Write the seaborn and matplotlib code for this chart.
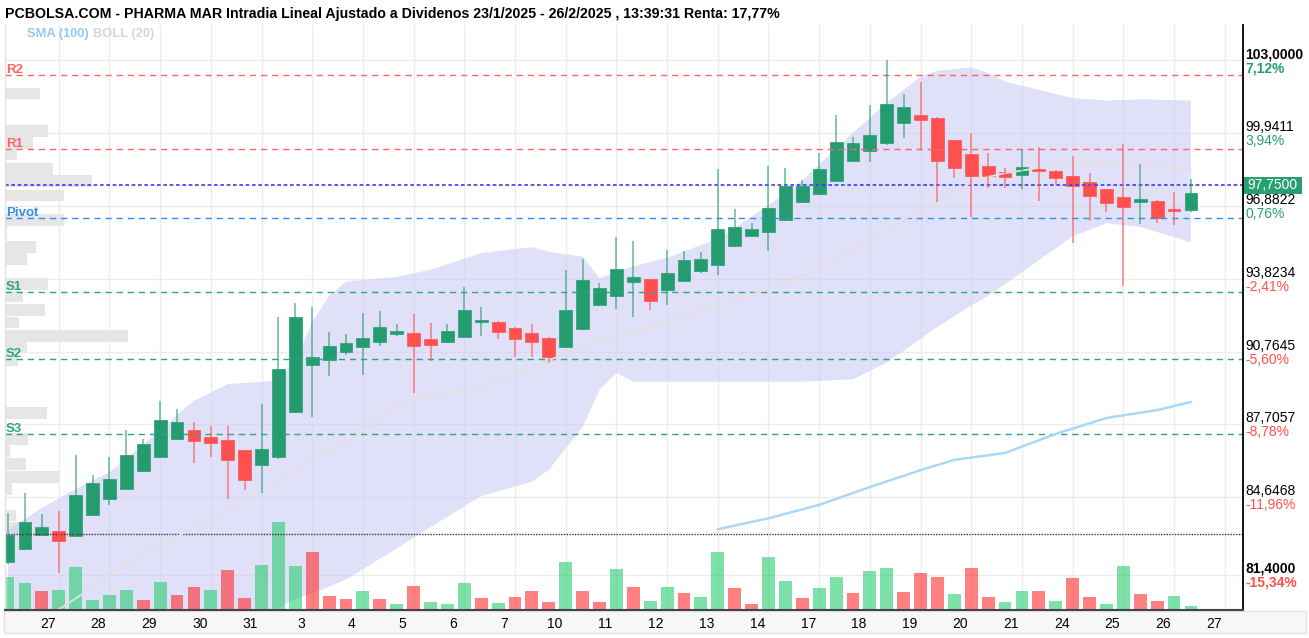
import numpy as np
import pandas as pd
import matplotlib
matplotlib.use("Agg")
import matplotlib.pyplot as plt
import matplotlib.patches as mpatches
import matplotlib.transforms as mtrans
import seaborn as sns
import warnings
warnings.filterwarnings('ignore')

sns.set_theme(style="white")
plt.rcParams['font.family'] = ['Liberation Sans', 'DejaVu Sans']

# ---- velas intradia (3 por sesion) ----
apertura = [81.95, 82.49, 83.07, 83.25, 83.01, 83.89, 84.59, 85.01, 85.74, 86.33,
            87.11, 87.46, 87.19, 87.04, 86.62, 86.00, 86.33, 88.22, 90.20, 90.41,
            90.73, 90.94, 91.15, 91.50, 91.56, 91.29, 91.15, 91.39, 92.00, 92.02,
            91.77, 91.56, 91.35, 90.97, 91.71, 92.72, 93.10, 93.70, 93.81, 93.35,
            93.73, 94.13, 94.40, 95.20, 95.63, 95.77, 96.29, 97.03, 97.38, 97.92,
            98.76, 99.18, 99.50, 100.34, 100.68, 100.58, 99.64, 99.06, 98.57, 98.31,
            98.17, 98.37, 98.36, 98.15, 97.89, 97.57, 97.26, 97.03, 97.10, 96.69,
            96.70]
maximo = [84.00, 84.82, 83.95, 84.09, 86.41, 85.57, 86.35, 87.47, 87.08, 88.70,
          88.34, 87.82, 87.65, 87.65, 86.65, 88.56, 92.23, 92.79, 92.65, 91.60,
          91.50, 92.40, 92.48, 91.91, 92.33, 91.98, 91.92, 93.49, 92.65, 92.04,
          91.81, 91.92, 91.37, 94.19, 94.65, 93.65, 95.59, 95.42, 93.83, 95.03,
          95.00, 94.96, 98.43, 96.74, 96.15, 98.56, 98.46, 97.96, 99.11, 100.69,
          99.78, 101.11, 103.00, 101.57, 102.09, 100.60, 99.66, 99.95, 99.09, 98.46,
          99.22, 99.36, 98.38, 98.97, 98.25, 97.59, 99.46, 98.62, 97.12, 97.47,
          97.99]
minimo = [81.84, 82.44, 83.04, 81.46, 83.00, 83.85, 84.33, 84.98, 85.71, 86.29,
          87.05, 86.08, 86.33, 84.57, 84.96, 84.84, 86.27, 88.17, 88.03, 89.74,
          90.63, 89.78, 91.01, 91.43, 89.01, 90.37, 91.11, 91.36, 91.43, 91.31,
          90.52, 90.52, 90.27, 90.90, 91.67, 92.68, 92.54, 92.20, 92.51, 92.72,
          93.67, 94.05, 93.98, 95.14, 95.59, 95.00, 96.26, 96.99, 97.34, 97.87,
          98.71, 98.73, 99.43, 99.71, 99.22, 97.03, 98.04, 96.42, 97.64, 97.64,
          97.57, 97.10, 97.76, 95.31, 96.26, 96.61, 93.52, 96.11, 96.15, 96.08,
          96.63]
cierre = [83.07, 83.63, 83.42, 82.80, 84.73, 85.26, 85.42, 86.41, 86.89, 87.88,
          87.82, 87.01, 86.92, 86.21, 85.38, 86.66, 90.02, 92.23, 90.55, 91.01,
          91.14, 91.35, 91.81, 91.62, 91.00, 91.04, 91.64, 92.50, 92.02, 91.57,
          91.29, 91.15, 90.55, 92.51, 93.77, 93.45, 94.23, 93.91, 92.89, 94.07,
          94.59, 94.65, 95.91, 96.00, 95.90, 96.80, 97.73, 97.73, 98.43, 99.57,
          99.53, 99.85, 101.15, 101.04, 100.48, 98.76, 98.46, 98.13, 98.13, 98.08,
          98.52, 98.36, 98.04, 97.73, 97.29, 96.99, 96.82, 97.15, 96.36, 96.68,
          97.43]

# volumen por vela (miles) y su color ('g' sube / 'r' baja)
volumen = [32.7, 26.7, 19.3, 20.3, 42.7, 10.3, 15.3, 20.3, 10.3, 28.0,
           15.3, 22.7, 20.3, 40.3, 11.7, 45.3, 87.7, 44.3, 58.3, 14.3,
           10.7, 19.3, 10.7, 5.7, 24.3, 8.0, 5.7, 26.7, 11.7, 6.7,
           13.0, 19.3, 8.3, 48.0, 19.3, 8.0, 40.7, 23.3, 9.0, 23.3,
           16.7, 13.0, 58.0, 22.0, 5.7, 53.0, 29.3, 11.7, 21.7, 33.3,
           16.7, 39.3, 42.0, 18.0, 37.0, 33.3, 15.7, 42.3, 13.3, 8.0,
           19.3, 19.3, 9.0, 32.0, 13.0, 5.7, 44.3, 15.7, 9.3, 14.3,
           4.3]
color_vol = list("ggrgggggrgrrgrrgggrrrgrgrgggrgrrrgrrgrggrggrrggrggrggrrrgrrggrgrrggrrgg")

# Bollinger (20) y SMA (100)
boll_idx = [0, 2, 4, 6, 8, 10, 11, 13, 16, 17, 18, 19, 20, 23, 25, 28, 31, 32, 34, 35,
            36, 37, 39, 42, 45, 47, 50, 52, 54, 55, 57, 58, 59, 63, 65, 67, 70]
boll_sup = [83.3, 84.2, 85.0, 85.7, 86.85, 88.1, 88.7, 89.4, 89.55, 90.4, 92.0, 93.1, 93.7,
            93.9, 94.2, 94.9, 95.15, 94.95, 94.75, 93.85, 94.1, 94.35, 94.7, 95.5, 96.9,
            97.95, 99.95, 101.2, 102.3, 102.55, 102.7, 102.45, 102.1, 101.4, 101.3, 101.35,
            101.3]
boll_med = [78.6, 79.5, 80.4, 81.4, 82.3, 83.0, 83.4, 84.1, 85.3, 85.8, 86.3, 86.6, 86.9,
            88.6, 88.95, 89.25, 90.1, 90.4, 90.95, 91.25, 91.4, 91.6, 92.0, 92.7, 93.4,
            93.9, 95.0, 95.85, 96.7, 97.1, 97.85, 98.1, 98.25, 98.7, 98.72, 98.65, 98.38]
boll_inf = [73.9, 74.8, 75.8, 77.1, 77.75, 77.9, 78.1, 78.8, 80.0, 80.4, 80.6, 80.9, 81.2,
            82.5, 83.4, 84.7, 85.3, 85.8, 87.6, 89.15, 89.87, 89.5, 89.5, 89.5, 89.5,
            89.5, 89.6, 90.3, 91.3, 91.8, 92.7, 93.1, 93.6, 95.6, 96.15, 96.0, 95.35]
sma_idx = [42, 45, 48, 51, 54, 56, 59, 62, 65, 68, 70]
sma_val = [83.31, 83.77, 84.33, 85.08, 85.79, 86.22, 86.51, 87.31, 87.98, 88.31, 88.65]

# perfil de volumen por precio (barras grises de la izquierda)
perfil_precio = [101.61, 100.02, 99.52, 99.05, 98.43, 97.92, 97.33, 96.29, 95.78, 95.15,
                 94.65, 93.60, 93.06, 92.51, 91.97, 91.42, 90.92, 90.41, 88.19, 87.10,
                 86.59, 86.05, 85.50, 85.00, 83.87, 83.36]
perfil_vol = [35, 43, 28, 12, 48, 87, 59, 59, 2, 31, 22, 43, 18, 40, 14, 123, 22, 13, 42, 23,
              5, 21, 54, 7, 11, 15]

# niveles pivote
niveles = {'R2': 102.37, 'R1': 99.27, 'Pivot': 96.36, 'S1': 93.28, 'S2': 90.45, 'S3': 87.29}
precio_actual = 97.75
precio_ref = 83.10

# eje derecho
ticks_precio = [103.0, 99.9411, 96.8822, 93.8234, 90.7645, 87.7057, 84.6468, 81.40]
ticks_txt = ["103,0000", "99,9411", "96,8822", "93,8234", "90,7645", "87,7057", "84,6468", "81,4000"]
pct_txt = ["7,12%", "3,94%", "0,76%", "-2,41%", "-5,60%", "-8,78%", "-11,96%", "-15,34%"]
dias = ["27", "28", "29", "30", "31", "3", "4", "5", "6", "7", "10", "11", "12", "13", "14",
        "17", "18", "19", "20", "21", "24", "25", "26", "27"]

df = pd.DataFrame({'open': apertura, 'high': maximo, 'low': minimo, 'close': cierre,
                   'vol': volumen, 'vcol': color_vol})
df['i'] = np.arange(len(df))

VERDE = '#259c70'
ROJO = '#ff5050'
Y_BOT, Y_TOP = 79.92, 104.47
X_MIN, X_MAX = -0.18, 73.08

W, H = 1309, 638
fig = plt.figure(figsize=(W / 100, H / 100), dpi=100)
fig.patch.set_facecolor('white')
rect = [5 / W, 28 / H, 1238 / W, 585 / H]

ax_bg = fig.add_axes(rect, zorder=0)
ax_prof = fig.add_axes(rect, zorder=1, sharey=ax_bg)
ax_band = fig.add_axes(rect, zorder=2, sharex=ax_bg, sharey=ax_bg)
ax_vol = fig.add_axes(rect, zorder=3, sharex=ax_bg)
ax = fig.add_axes(rect, zorder=4, sharex=ax_bg, sharey=ax_bg)
for a in [ax_bg, ax_prof, ax_band, ax_vol]:
    a.axis('off')
ax.set_facecolor('none')
ax_bg.set_xlim(X_MIN, X_MAX)
ax_bg.set_ylim(Y_BOT, Y_TOP)

# rejilla
for t in ticks_precio:
    ax_bg.axhline(t, color='#ececec', lw=1)
for g in range(3, 73, 3):
    ax_bg.axvline(g, color='#ececec', lw=1)

# perfil de volumen
ax_prof.set_xlim(0, 1238)
ax_prof.barh(perfil_precio, perfil_vol, height=0.47, left=0, color='#e6e6e6', edgecolor='none')

# bandas de Bollinger
ax_band.fill_between(boll_idx, boll_sup, boll_inf, color='#c8c8f5', alpha=0.55, lw=0)

# volumen
ax_vol.set_ylim(0, 585)
vc = df['vcol'].map({'g': '#26cd71', 'r': '#ff2b2b'})
ax_vol.bar(df['i'], df['vol'], width=0.76, color=vc, alpha=0.6, edgecolor='none')

# lineas de niveles
for nombre, nivel in niveles.items():
    if nombre.startswith('R'):
        c = '#ff6464'
    elif nombre.startswith('S'):
        c = '#2fa57c'
    else:
        c = '#2f8ff0'
    ax.axhline(nivel, color=c, lw=1, ls=(0, (4.5, 3.5)))
    off = mtrans.offset_copy(ax.get_yaxis_transform(), fig=fig, x=1, y=2, units='dots')
    ax.text(0, nivel, nombre, transform=off, color=c, fontsize=9.5, fontweight='bold',
            va='baseline', ha='left')
ax.axhline(precio_actual, color='#3b3bf5', lw=1.2, ls=(0, (2.2, 1.6)))
ax.axhline(precio_ref, color='#333333', lw=1, ls=(0, (1, 1)))

# medias
sns.lineplot(x=boll_idx, y=boll_med, ax=ax, color='#e6dede', lw=1.3)
sns.lineplot(x=sma_idx, y=sma_val, ax=ax, color='#acd8f7', lw=1.8)

# velas
sube = df['close'] >= df['open']
col = np.where(sube, VERDE, ROJO)
ax.vlines(df['i'], df['low'], df['high'], colors=col, lw=1.3, alpha=0.6)
cuerpo = (df['close'] - df['open']).abs().clip(lower=0.07)
ax.bar(df['i'], cuerpo, bottom=df[['open', 'close']].min(axis=1), width=0.76,
       color=col, edgecolor=col, lw=0.5)

# ejes
ax.set_xlim(X_MIN, X_MAX)
ax.set_ylim(Y_BOT, Y_TOP)
ax.set_yticks([])
ax.set_xticks([3 * k + 2.35 for k in range(len(dias))])
ax.set_xticklabels(dias, fontsize=10, color='black')
ax.tick_params(axis='x', length=0, pad=5)
ax.set_xlabel('')
ax.set_ylabel('')
ax.spines['top'].set_visible(False)
ax.spines['left'].set_color('#e2e2e2')
ax.spines['left'].set_linewidth(1)
ax.spines['right'].set_color('black')
ax.spines['right'].set_linewidth(1.3)
ax.spines['bottom'].set_color('#444444')
ax.spines['bottom'].set_linewidth(1.5)

# etiquetas de precio a la derecha
ytr = ax.get_yaxis_transform()
up2 = mtrans.offset_copy(ytr, fig=fig, x=2, y=2, units='dots')
dn12 = mtrans.offset_copy(ytr, fig=fig, x=2, y=-12, units='dots')
for k, (t, s, p) in enumerate(zip(ticks_precio, ticks_txt, pct_txt)):
    peso = 'bold' if k in (0, len(ticks_precio) - 1) else 'normal'
    ax.text(1.0, t, s, transform=up2, fontsize=10, color='black', fontweight=peso,
            va='baseline', ha='left')
    ax.text(1.0, t, p, transform=dn12, fontsize=10,
            color='#26a073' if not p.startswith('-') else '#ff5050',
            fontweight=peso, va='baseline', ha='left')

# caja del precio actual
ax.add_patch(mpatches.Rectangle((1.0, precio_actual - 0.36), 59 / 1238, 0.72, transform=ytr,
                                facecolor='#26a073', edgecolor='none', clip_on=False))
ax.text(1.0 + 29.5 / 1238, precio_actual, "97,7500", transform=ytr, color='white',
        fontsize=10, ha='center', va='center')

# franja del eje x
fig.add_artist(mpatches.Rectangle((4 / W, 1 - 633 / H), 1302 / W, 22 / H,
                                  transform=fig.transFigure, facecolor='#f7f7f7',
                                  edgecolor='#e4e4e4', lw=1, zorder=-1))

# titulo y leyenda
fig.text(5 / W, 1 - 14 / H,
         "PCBOLSA.COM - PHARMA MAR Intradia Lineal Ajustado a Dividenos 23/1/2025 - 26/2/2025 , 13:39:31 Renta: 17,77%",
         fontsize=10.15, fontweight='bold', color='black', va='center', ha='left')
fig.text(27 / W, 1 - 34 / H, "SMA (100)", fontsize=9.3, fontweight='bold', color='#92cbf5',
         va='center', ha='left')
fig.text(93 / W, 1 - 34 / H, "BOLL (20)", fontsize=9.3, fontweight='bold', color='#d6d6d6',
         va='center', ha='left')

fig.savefig('out.png', dpi=100)
